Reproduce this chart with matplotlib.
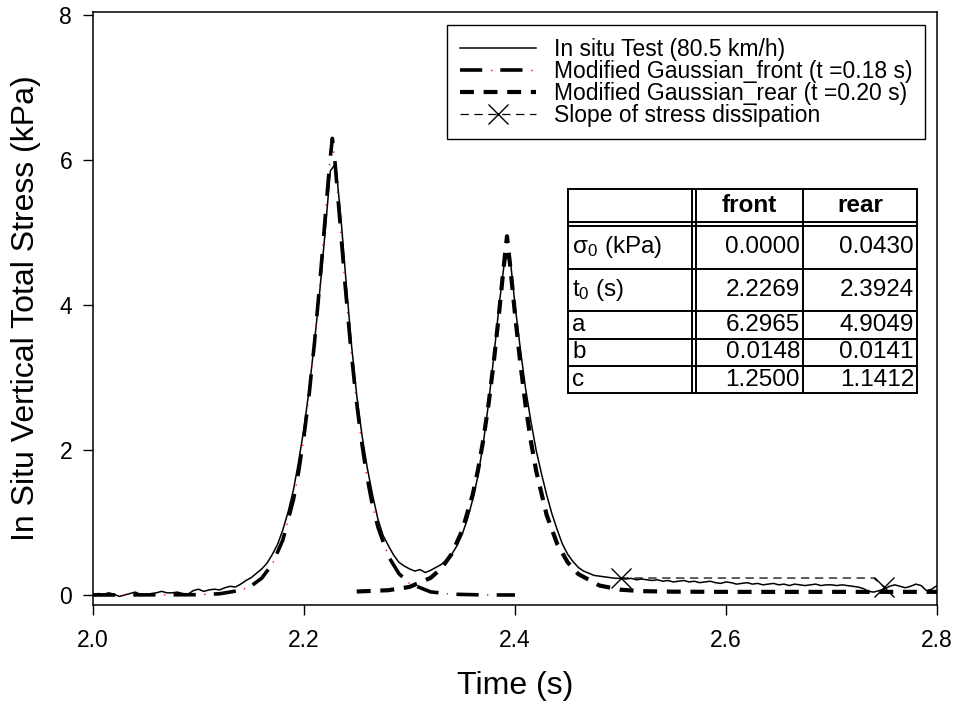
import numpy as np
import matplotlib.pyplot as plt
from matplotlib.lines import Line2D

plt.rcParams["font.family"] = ["Liberation Sans", "DejaVu Sans"]
plt.rcParams["mathtext.fontset"] = "custom"
plt.rcParams["mathtext.rm"] = "Liberation Sans"
plt.rcParams["mathtext.it"] = "Liberation Sans:italic"
plt.rcParams["mathtext.bf"] = "Liberation Sans:bold"
plt.rcParams["lines.scale_dashes"] = False

# measured stress, sampled every 5 ms from 2.0 s to 2.8 s
insitu_t = np.linspace(2.0, 2.8, 161)
insitu_s = [
    0.01, 0.02, 0.01, 0.03, 0.01, -0.02, 0.00, 0.02, 0.04, 0.01,
    0.00, 0.02, 0.03, 0.05, 0.03, 0.03, 0.04, 0.02, 0.01, 0.06,
    0.08, 0.05, 0.07, 0.08, 0.07, 0.10, 0.12, 0.11, 0.15, 0.20,
    0.24, 0.30, 0.36, 0.44, 0.56, 0.70, 0.90, 1.15, 1.45, 1.85,
    2.30, 2.85, 3.50, 4.20, 5.00, 5.85, 5.95, 5.20, 4.30, 3.45,
    2.75, 2.20, 1.75, 1.38, 1.05, 0.82, 0.68, 0.55, 0.45, 0.40,
    0.36, 0.33, 0.35, 0.31, 0.34, 0.38, 0.42, 0.48, 0.56, 0.68,
    0.84, 1.05, 1.32, 1.65, 2.10, 2.65, 3.30, 4.00, 4.60, 4.70,
    4.00, 3.40, 2.85, 2.40, 2.00, 1.68, 1.38, 1.12, 0.90, 0.70,
    0.56, 0.46, 0.38, 0.33, 0.30, 0.27, 0.26, 0.25, 0.24, 0.23,
    0.23, 0.22, 0.23, 0.21, 0.22, 0.21, 0.20, 0.21, 0.19, 0.20,
    0.18, 0.19, 0.20, 0.18, 0.19, 0.17, 0.18, 0.19, 0.17, 0.16,
    0.18, 0.17, 0.15, 0.16, 0.17, 0.15, 0.16, 0.14, 0.15, 0.16,
    0.14, 0.15, 0.13, 0.15, 0.14, 0.13, 0.14, 0.15, 0.13, 0.14,
    0.14, 0.13, 0.14, 0.13, 0.12, 0.11, 0.09, 0.05, 0.04, 0.06,
    0.08, 0.12, 0.14, 0.12, 0.10, 0.12, 0.15, 0.13, 0.06, 0.08,
    0.13,
]

# modified Gaussian fit, front axle
front_t = [2.00, 2.10, 2.12, 2.14, 2.15, 2.16, 2.17, 2.18, 2.19, 2.195,
           2.20, 2.205, 2.21, 2.215, 2.22, 2.2245, 2.2269, 2.2295, 2.234,
           2.239, 2.244, 2.249, 2.254, 2.259, 2.264, 2.27, 2.28, 2.29,
           2.30, 2.32, 2.34, 2.37, 2.40]
front_s = [0.000, 0.004, 0.017, 0.065, 0.125, 0.233, 0.427, 0.761, 1.315,
           1.706, 2.191, 2.784, 3.490, 4.303, 5.193, 5.980, 6.297, 5.948,
           5.157, 4.269, 3.459, 2.758, 2.170, 1.689, 1.301, 0.939, 0.533,
           0.294, 0.159, 0.043, 0.011, 0.001, 0.000]

# modified Gaussian fit, rear axle
rear_t = [2.25, 2.28, 2.30, 2.32, 2.33, 2.34, 2.35, 2.36, 2.365, 2.37,
          2.375, 2.38, 2.385, 2.389, 2.3924, 2.396, 2.40, 2.405, 2.41,
          2.415, 2.42, 2.43, 2.44, 2.45, 2.46, 2.48, 2.50, 2.52, 2.55,
          2.60, 2.70, 2.80]
rear_s = [0.048, 0.066, 0.111, 0.236, 0.363, 0.567, 0.890, 1.390, 1.730,
          2.144, 2.641, 3.228, 3.903, 4.487, 4.948, 4.458, 3.874, 3.203,
          2.619, 2.126, 1.716, 1.103, 0.704, 0.449, 0.289, 0.131, 0.073,
          0.053, 0.046, 0.043, 0.043, 0.043]

# slope of stress dissipation
slope_t = [2.50, 2.74, 2.75]
slope_s = [0.234, 0.234, 0.110]

labels = ["In situ Test (80.5 km/h)",
          "Modified Gaussian_front (t =0.18 s)",
          "Modified Gaussian_rear (t =0.20 s)",
          "Slope of stress dissipation"]

row_names = ["σ$_0$ (kPa)", "t$_0$ (s)", "a", "b", "c"]
front_par = ["0.0000", "2.2269", "6.2965", "0.0148", "1.2500"]
rear_par = ["0.0430", "2.3924", "4.9049", "0.0141", "1.1412"]

W, H = 954, 706
fig = plt.figure(figsize=(W / 100, H / 100), dpi=100)
ax = fig.add_axes([93 / W, 1 - 605 / H, (937 - 93) / W, (605 - 12) / H])

insitu_line, = ax.plot(insitu_t, insitu_s, color="k", lw=1.1)
front_line, = ax.plot(front_t, front_s, color="k", lw=2.6, ls=(0, (16, 13)))
front_dot, = ax.plot(front_t, front_s, color="red", lw=1, ls=(7, (1, 28)))
rear_line, = ax.plot(rear_t, rear_s, color="k", lw=3, ls=(0, (10, 7)))
ax.plot(slope_t, slope_s, color="k", lw=0.9, ls=(0, (6, 4)),
        marker="x", markersize=14, markeredgewidth=1, markevery=[0, 2])
slope_proxy = Line2D([], [], color="k", lw=0.9, ls=(0, (6, 4)),
                     marker="x", markersize=14, markeredgewidth=1)

ax.set_xlim(2.0, 2.8)
ax.set_ylim(-0.138, 8.04)
ax.set_xticks([2.0, 2.2, 2.4, 2.6, 2.8])
ax.set_xticklabels(["2.0", "2.2", "2.4", "2.6", "2.8"])
ax.set_yticks([0, 2, 4, 6, 8])
ax.tick_params(direction="out", length=7, width=1, labelsize=16.5, pad=8)
ax.tick_params(axis="x", pad=10)
for s in ax.spines.values():
    s.set_linewidth(1.1)
ax.set_xlabel("Time (s)", fontsize=23, labelpad=14)
ax.set_ylabel("In Situ Vertical Total Stress (kPa)", fontsize=23, labelpad=13)

leg = ax.legend([insitu_line, (front_line, front_dot), rear_line, slope_proxy],
                labels, loc="upper right",
                bbox_to_anchor=(925 / W, 1 - 25 / H), bbox_transform=fig.transFigure,
                fontsize=16.5, fancybox=False, edgecolor="k", framealpha=1,
                borderaxespad=0, borderpad=0.55, handlelength=3.3,
                handletextpad=0.8, labelspacing=-0.04)
leg.get_frame().set_linewidth(1)

# parameter table, drawn in pixel positions of the figure
def fx(x):
    return x / W

def fy(y):
    return 1 - y / H

xl, xd1, xd2, xm, xr = 568, 692, 696, 803, 917
ys = [189, 222, 226, 269, 311, 339, 366, 393]
for y in ys:
    fig.add_artist(Line2D([fx(xl), fx(xr)], [fy(y), fy(y)], color="k", lw=1.4))
for x in [xl, xd1, xd2, xm, xr]:
    fig.add_artist(Line2D([fx(x), fx(x)], [fy(ys[0]), fy(ys[-1])], color="k", lw=1.4))

fig.text(fx((xd2 + xm) / 2), fy(206), "front", ha="center", va="center",
         fontsize=17.5, fontweight="bold")
fig.text(fx((xm + xr) / 2), fy(206), "rear", ha="center", va="center",
         fontsize=17.5, fontweight="bold")
row_edges = ys[2:]
for i in range(5):
    yc = (row_edges[i] + row_edges[i + 1]) / 2
    fig.text(fx(xl + 4), fy(yc), row_names[i], ha="left", va="center", fontsize=17.5)
    fig.text(fx(xm - 3), fy(yc), front_par[i], ha="right", va="center", fontsize=17.5)
    fig.text(fx(xr - 3), fy(yc), rear_par[i], ha="right", va="center", fontsize=17.5)

fig.savefig("out.png", dpi=100)
